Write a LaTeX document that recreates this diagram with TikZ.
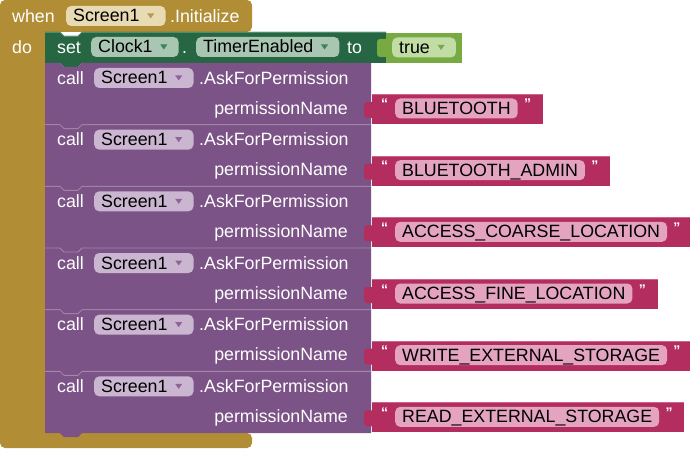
\documentclass[tikz,border=0pt]{standalone}
\usepackage{fontspec}
\setmainfont{Liberation Sans}
\usetikzlibrary{calc}
\definecolor{evgold}{RGB}{177,142,53}
\definecolor{evfield}{RGB}{232,218,178}
\definecolor{evtri}{RGB}{185,155,80}
\definecolor{setgreen}{RGB}{38,102,67}
\definecolor{setrim}{RGB}{80,140,105}
\definecolor{setfield}{RGB}{168,198,178}
\definecolor{settri}{RGB}{60,130,90}
\definecolor{truegreen}{RGB}{119,171,65}
\definecolor{truefield}{RGB}{193,220,165}
\definecolor{truetri}{RGB}{120,170,70}
\definecolor{callpurple}{RGB}{123,83,134}
\definecolor{callfield}{RGB}{202,182,208}
\definecolor{calltri}{RGB}{140,100,150}
\definecolor{callrim}{RGB}{165,135,172}
\definecolor{strred}{RGB}{179,45,94}
\definecolor{strrim}{RGB}{205,100,140}
\definecolor{strfield}{RGB}{228,164,192}
\newcommand\fsz{\fontsize{17.8}{20}\selectfont}
\newcommand\qsz{\fontsize{14}{14}\selectfont}
\pgfdeclarelayer{bg}
\pgfsetlayers{bg,main}
\tikzset{
  lbl/.style={text=white, anchor=base west, inner sep=0pt, font=\fsz},
  lble/.style={text=white, anchor=base east, inner sep=0pt, font=\fsz},
  fld/.style={rounded corners=5pt, anchor=west, inner xsep=7pt, inner ysep=0pt,
    minimum height=20pt, text height=14pt, text depth=2pt, font=\fsz, text=black},
  qmark/.style={text=white, anchor=base west, inner sep=0pt, font=\qsz\bfseries},
}
\newcommand\ddtri[2]{\fill[#2] ($(#1.east)+(-18.5,-2.5)$) -- ++(7,0) -- ++(-3.5,5) -- cycle;}
\newcommand\ddgap{\kern19pt\relax}
\begin{document}
\begin{tikzpicture}[x=1pt,y=-1pt]
\useasboundingbox (0,0) rectangle (690,449);

\begin{pgfonlayer}{bg}
% event block
\fill[evgold, rounded corners=5pt] (0,0) -- (252,0) -- (252,32) -- (45,32) -- (45,433) -- (252,433) -- (252,448) -- (0,448) -- cycle;
% set block
\fill[setgreen] (45,32) -- (60,32) -- (64,36) -- (78,36) -- (82,32) -- (386,32) -- (386,63) -- (82,63) -- (78,67) -- (64,67) -- (60,63) -- (45,63) -- cycle;
\draw[setrim, line width=0.8pt] (45,32.4) -- (60,32.4) -- (64,36.4) -- (78,36.4) -- (82,32.4) -- (386,32.4);
% true block
\fill[truegreen] (386,33) rectangle (462,63);
\fill[truegreen, rounded corners=3pt] (387,39) -- (377,39) -- (377,57) -- (387,57);
% call blocks
\foreach \k in {0,...,5}{
  \pgfmathsetmacro\T{63+61.67*\k}
  \pgfmathsetmacro\B{\T+61.67}
  \fill[callpurple] (45,\T) -- (60,\T) -- (64,\T+4) -- (78,\T+4) -- (82,\T) -- (371,\T) -- (371,\B) -- (82,\B) -- (78,\B+4) -- (64,\B+4) -- (60,\B) -- (45,\B) -- cycle;
}
\foreach \k in {1,...,5}{
  \pgfmathsetmacro\T{63+61.67*\k}
  \draw[callrim, line width=0.8pt] (45,\T) -- (60,\T) -- (64,\T+4) -- (78,\T+4) -- (82,\T) -- (371,\T);
}
\end{pgfonlayer}

% header texts
\node[lbl] (when) at (12,22.2) {when};
\node[fld, fill=evfield] (evscr) at (66,16) {Screen1\ddgap};
\ddtri{evscr}{evtri}
\node[lbl] (init) at (170,22.2) {.Initialize};
\node[lbl] (do) at (12,53.2) {do};

% set block texts
\node[lbl] (set) at (57,53.2) {set};
\node[fld, fill=setfield] (clk) at (91,47) {Clock1\ddgap};
\ddtri{clk}{settri}
\node[lbl] (dot) at (182,53.2) {.};
\node[fld, fill=setfield] (te) at (196,47) {TimerEnabled\ddgap};
\ddtri{te}{settri}
\node[lbl] (to) at (347,53.2) {to};
\node[fld, fill=truefield] (tru) at (392,47.5) {true\ddgap};
\ddtri{tru}{truetri}

% call blocks texts and string blocks
\foreach \k/\perm in {0/BLUETOOTH,1/BLUETOOTH\_ADMIN,2/ACCESS\_COARSE\_LOCATION,3/ACCESS\_FINE\_LOCATION,4/WRITE\_EXTERNAL\_STORAGE,5/READ\_EXTERNAL\_STORAGE}{
  \pgfmathsetmacro\T{63+61.67*\k}
  \node[lbl] (call\k) at (57,\T+21.2) {call};
  \node[fld, fill=callfield] (scr\k) at (94,\T+15) {Screen1\ddgap};
  \ddtri{scr\k}{calltri}
  \node[lbl] (ask\k) at (199,\T+21.2) {.AskForPermission};
  \node[lble] (pn\k) at (348,\T+51.2) {permissionName};
  \node[qmark] (oq\k) at (381,\T+46) {“};
  \node[fld, fill=strfield] (str\k) at (395,\T+45.5) {\perm};
  \node[qmark, anchor=base west] (cq\k) at ($(str\k.east)+(6,0.5)$) {”};
  \begin{pgfonlayer}{bg}
    \path (str\k.east) ++(25,0) coordinate (se\k);
    \fill[strred] (372,\T+31) rectangle (se\k |- 0,\T+61);
    \draw[strrim, line width=0.7pt] (372,\T+31.4) -- (se\k |- 0,\T+31.4);
    \fill[strred, rounded corners=3pt] (373,\T+39) -- (364,\T+39) -- (364,\T+55) -- (373,\T+55);
  \end{pgfonlayer}
}
\end{tikzpicture}
\end{document}
